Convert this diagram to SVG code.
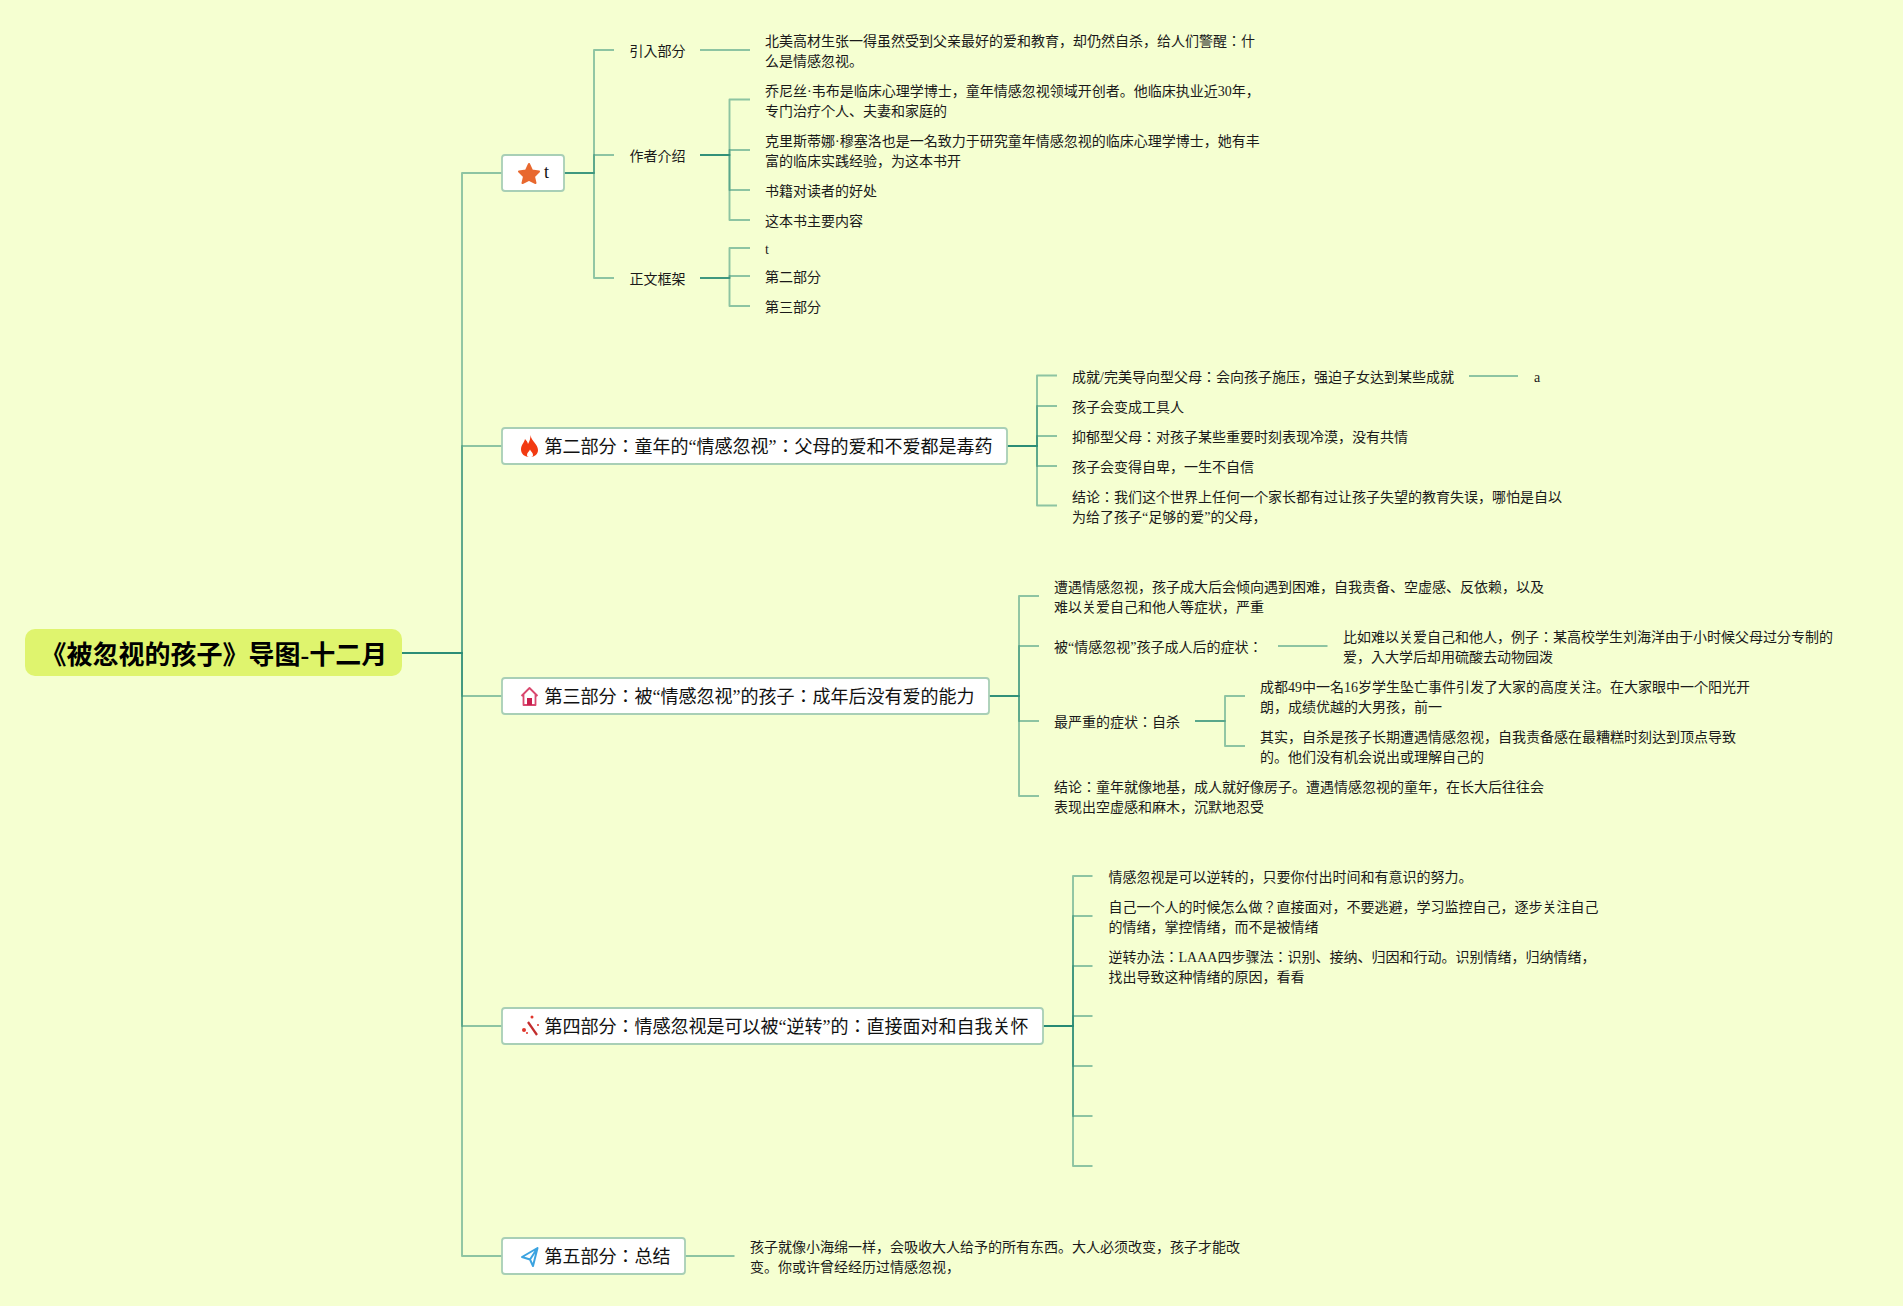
<svg xmlns="http://www.w3.org/2000/svg" width="1903" height="1306" viewBox="0 0 1903 1306">
<style>
text{font-family:"Liberation Serif","Noto Sans CJK JP",serif;fill:#1a1a1a}
.s{font-size:14px}
.m{font-size:18px;fill:#111}
.r{font-size:26px;font-weight:bold;fill:#000}
.b{fill:#fff;stroke:#A8CFB6;stroke-width:1.8}
#connectors path{fill:none;stroke:#258974;stroke-opacity:.5;stroke-width:1.9;stroke-linejoin:round}
</style>
<rect width="1903" height="1306" fill="#F5FFD1"/>
<g id="connectors">
<path d="M402 653H462V173H502"/><path d="M402 653H462V446H502"/><path d="M402 653H462V696H502"/><path d="M402 653H462V1026H502"/><path d="M402 653H462V1256H502"/>
<path d="M564 173H594V50H614"/><path d="M564 173H594V155H614"/><path d="M564 173H594V278H614"/>
<path d="M700 50H750"/>
<path d="M700 155H729.500V99.500H750"/><path d="M700 155H729.500V150H750"/><path d="M700 155H729.500V190H750"/><path d="M700 155H729.500V220H750"/>
<path d="M700 278H729.500V248H750"/><path d="M700 278H729.500V276H750"/><path d="M700 278H729.500V306H750"/>
<path d="M1007 446H1037V375.500H1057"/><path d="M1007 446H1037V406H1057"/><path d="M1007 446H1037V436H1057"/><path d="M1007 446H1037V466H1057"/><path d="M1007 446H1037V505.500H1057"/>
<path d="M1469 376H1518"/>
<path d="M989 696H1019V596H1039"/><path d="M989 696H1019V646H1039"/><path d="M989 696H1019V721H1039"/><path d="M989 696H1019V796H1039"/>
<path d="M1278 646H1327.500"/>
<path d="M1195 721H1225V696H1245"/><path d="M1195 721H1225V746H1245"/>
<path d="M1043 1026H1073V876H1092.500"/><path d="M1043 1026H1073V916H1092.500"/><path d="M1043 1026H1073V966H1092.500"/><path d="M1043 1026H1073V1016H1092.500"/><path d="M1043 1026H1073V1066H1092.500"/><path d="M1043 1026H1073V1116H1092.500"/><path d="M1043 1026H1073V1166H1092.500"/>
<path d="M685 1256H734.500"/>
</g>
<g id="root"><rect x="25" y="629" width="377" height="47" rx="10" fill="#DFF46E"/><text class="r" x="40.500" y="664">《被忽视的孩子》导图-十二月</text></g>
<g id="part1"><rect class="b" x="502" y="155" width="62" height="36" rx="3"/>
<path d="M529 164L532 170.500L539 171.500L534 176.500L535.500 183L529 179.800L522.500 183L524 176.500L519 171.500L526 170.500Z" fill="#E8682F" stroke="#E8682F" stroke-width="2" stroke-linejoin="round"/>
<text class="m" x="544" y="178">t</text></g>
<g id="part2"><rect class="b" x="502" y="428" width="505" height="36" rx="3"/>
<path d="M530.500 435C531 441 538 444 538 450C538 454 535 457 530 457C524.500 457 521 454 521 449.500C521 445 524 443 525 439C526.500 440.500 527.500 442 528 444C529.500 441.500 530.500 438.500 530.500 435Z" fill="#F23A12"/>
<path d="M530 449.500C530.500 451.500 533 452.500 533 455C533 456.500 532 457 530 457C528 457 527 456.500 527 455C527 452.500 529.500 451.500 530 449.500Z" fill="#fff"/>
<text class="m" x="544.500" y="453">第二部分：童年的“情感忽视”：父母的爱和不爱都是毒药</text></g>
<g id="part3"><rect class="b" x="502" y="678" width="487" height="36" rx="3"/>
<path d="M521.500 696L529.500 688L537.500 696M523.500 694.500V705H535.500V694.500" fill="none" stroke="#D9476E" stroke-width="1.800" stroke-linejoin="round"/>
<rect x="527" y="698" width="5" height="7" fill="#C9204F"/>
<text class="m" x="544.500" y="703">第三部分：被“情感忽视”的孩子：成年后没有爱的能力</text></g>
<g id="part4"><rect class="b" x="502" y="1008" width="541" height="36" rx="3"/>
<path d="M528 1022L537 1035" fill="none" stroke="#C22D2D" stroke-width="2.200"/>
<circle cx="524" cy="1030" r="2" fill="#E0352B"/><circle cx="532" cy="1017" r="1.500" fill="#E0352B"/><circle cx="538" cy="1025" r="1" fill="#E0352B"/><circle cx="527" cy="1033" r="1" fill="#E0352B"/>
<text class="m" x="544.500" y="1033">第四部分：情感忽视是可以被“逆转”的：直接面对和自我关怀</text></g>
<g id="part5"><rect class="b" x="502" y="1238" width="183" height="36" rx="3"/>
<path d="M537.500 1248L522 1257L530 1259.500L533 1266ZM537.500 1248L530 1259.500" fill="none" stroke="#3BA3E0" stroke-width="2" stroke-linejoin="round"/>
<text class="m" x="544.500" y="1263">第五部分：总结</text></g>
<g id="intro"><text class="s" x="629.500" y="56">引入部分</text>
<text class="s" x="765" y="46">北美高材生张一得虽然受到父亲最好的爱和教育，却仍然自杀，给人们警醒：什</text><text class="s" x="765" y="66">么是情感忽视。</text></g>
<g id="author"><text class="s" x="629.500" y="161">作者介绍</text>
<text class="s" x="765" y="96">乔尼丝·韦布是临床心理学博士，童年情感忽视领域开创者。他临床执业近30年，</text><text class="s" x="765" y="116">专门治疗个人、夫妻和家庭的</text>
<text class="s" x="765" y="146">克里斯蒂娜·穆塞洛也是一名致力于研究童年情感忽视的临床心理学博士，她有丰</text><text class="s" x="765" y="166">富的临床实践经验，为这本书开</text>
<text class="s" x="765" y="196">书籍对读者的好处</text><text class="s" x="765" y="226">这本书主要内容</text></g>
<g id="frame"><text class="s" x="629.500" y="284">正文框架</text>
<text class="s" x="765" y="254">t</text><text class="s" x="765" y="282">第二部分</text><text class="s" x="765" y="312">第三部分</text></g>
<g id="p2-items">
<text class="s" x="1072" y="382">成就/完美导向型父母：会向孩子施压，强迫子女达到某些成就</text><text class="s" x="1534" y="382">a</text>
<text class="s" x="1072" y="412">孩子会变成工具人</text>
<text class="s" x="1072" y="442">抑郁型父母：对孩子某些重要时刻表现冷漠，没有共情</text>
<text class="s" x="1072" y="472">孩子会变得自卑，一生不自信</text>
<text class="s" x="1072" y="502">结论：我们这个世界上任何一个家长都有过让孩子失望的教育失误，哪怕是自以</text><text class="s" x="1072" y="522">为给了孩子“足够的爱”的父母，</text></g>
<g id="p3-items">
<text class="s" x="1054" y="592">遭遇情感忽视，孩子成大后会倾向遇到困难，自我责备、空虚感、反依赖，以及</text><text class="s" x="1054" y="612">难以关爱自己和他人等症状，严重</text>
<text class="s" x="1054" y="652">被“情感忽视”孩子成人后的症状：</text>
<text class="s" x="1343" y="642">比如难以关爱自己和他人，例子：某高校学生刘海洋由于小时候父母过分专制的</text><text class="s" x="1343" y="662">爱，入大学后却用硫酸去动物园泼</text>
<text class="s" x="1054" y="727">最严重的症状：自杀</text>
<text class="s" x="1260" y="692">成都49中一名16岁学生坠亡事件引发了大家的高度关注。在大家眼中一个阳光开</text><text class="s" x="1260" y="712">朗，成绩优越的大男孩，前一</text>
<text class="s" x="1260" y="742">其实，自杀是孩子长期遭遇情感忽视，自我责备感在最糟糕时刻达到顶点导致</text><text class="s" x="1260" y="762">的。他们没有机会说出或理解自己的</text>
<text class="s" x="1054" y="792">结论：童年就像地基，成人就好像房子。遭遇情感忽视的童年，在长大后往往会</text><text class="s" x="1054" y="812">表现出空虚感和麻木，沉默地忍受</text></g>
<g id="p4-items">
<text class="s" x="1108.500" y="882">情感忽视是可以逆转的，只要你付出时间和有意识的努力。</text>
<text class="s" x="1108.500" y="912">自己一个人的时候怎么做？直接面对，不要逃避，学习监控自己，逐步关注自己</text><text class="s" x="1108.500" y="932">的情绪，掌控情绪，而不是被情绪</text>
<text class="s" x="1108.500" y="962">逆转办法：LAAA四步骤法：识别、接纳、归因和行动。识别情绪，归纳情绪，</text><text class="s" x="1108.500" y="982">找出导致这种情绪的原因，看看</text></g>
<g id="p5-items">
<text class="s" x="750" y="1252">孩子就像小海绵一样，会吸收大人给予的所有东西。大人必须改变，孩子才能改</text><text class="s" x="750" y="1272">变。你或许曾经经历过情感忽视，</text></g>
</svg>
